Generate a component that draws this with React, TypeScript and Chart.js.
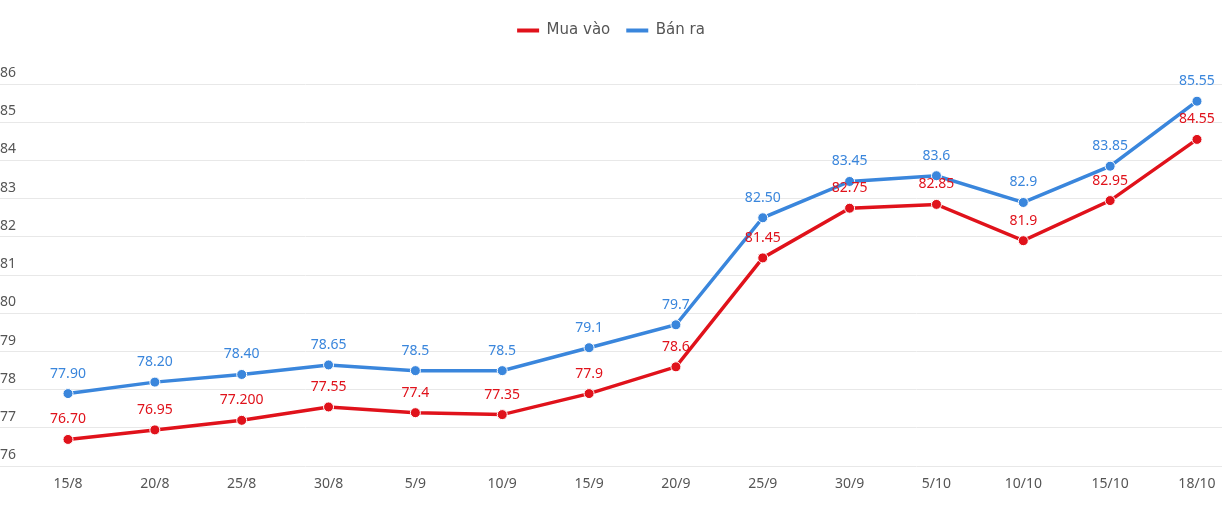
import React, { useEffect, useRef } from "react";
import { Chart, registerables } from "chart.js";

Chart.register(...registerables);

const dates = ["15/8", "20/8", "25/8", "30/8", "5/9", "10/9", "15/9", "20/9", "25/9", "30/9", "5/10", "10/10", "15/10", "18/10"];
const buyValues = [76.7, 76.95, 77.2, 77.55, 77.4, 77.35, 77.9, 78.6, 81.45, 82.75, 82.85, 81.9, 82.95, 84.55];
const buyLabels = ["76.70", "76.95", "77.200", "77.55", "77.4", "77.35", "77.9", "78.6", "81.45", "82.75", "82.85", "81.9", "82.95", "84.55"];
const sellValues = [77.9, 78.2, 78.4, 78.65, 78.5, 78.5, 79.1, 79.7, 82.5, 83.45, 83.6, 82.9, 83.85, 85.55];
const sellLabels = ["77.90", "78.20", "78.40", "78.65", "78.5", "78.5", "79.1", "79.7", "82.50", "83.45", "83.6", "82.9", "83.85", "85.55"];
const seriesNames = ["Mua vào", "Bán ra"];

const RED = "#e0121b";
const BLUE = "#3a86dc";

const labelPlugin = {
  id: "valueLabels",
  afterDatasetsDraw(chart: any) {
    const ctx = chart.ctx;
    ctx.save();
    ctx.font = "14px 'Noto Sans'";
    ctx.textAlign = "center";
    ctx.textBaseline = "middle";
    chart.data.datasets.forEach((ds: any, di: number) => {
      const meta = chart.getDatasetMeta(di);
      const texts = ds.valueLabels as string[];
      ctx.fillStyle = ds.borderColor;
      meta.data.forEach((pt: any, i: number) => {
        ctx.fillText(texts[i], pt.x, pt.y - 20);
      });
    });
    ctx.restore();
  },
};

const legendSpacer = {
  id: "legendSpacer",
  beforeInit(chart: any) {
    const fit = chart.legend.fit;
    chart.legend.fit = function () {
      fit.bind(chart.legend)();
      this.height += 36;
    };
  },
};

export default function App() {
  const ref = useRef<HTMLCanvasElement | null>(null);
  useEffect(() => {
    document.body.style.margin = "0";
    if (!ref.current) return;
    const chart = new Chart(ref.current, {
      type: "line",
      data: {
        datasets: [
          {
            label: seriesNames[0],
            data: buyValues.map((v, i) => ({ x: i, y: v })),
            valueLabels: buyLabels,
            borderColor: RED,
            backgroundColor: RED,
            borderWidth: 3.5,
            pointRadius: 5,
            pointBackgroundColor: RED,
            pointBorderColor: "#ffffff",
            pointBorderWidth: 1,
            tension: 0,
          } as any,
          {
            label: seriesNames[1],
            data: sellValues.map((v, i) => ({ x: i, y: v })),
            valueLabels: sellLabels,
            borderColor: BLUE,
            backgroundColor: BLUE,
            borderWidth: 3.5,
            pointRadius: 5,
            pointBackgroundColor: BLUE,
            pointBorderColor: "#ffffff",
            pointBorderWidth: 1,
            tension: 0,
          } as any,
        ],
      },
      options: {
        animation: false,
        responsive: true,
        maintainAspectRatio: false,
        layout: { autoPadding: false, padding: { top: 7, bottom: 29, left: 0, right: 0 } },
        plugins: {
          legend: {
            position: "top",
            labels: {
              boxWidth: 22,
              boxHeight: 4,
              padding: 16,
              color: "#555555",
              font: { size: 15, family: "'DejaVu Sans'" },
              generateLabels: (c: any) =>
                (Chart as any).defaults.plugins.legend.labels
                  .generateLabels(c)
                  .map((l: any) => ({ ...l, lineWidth: 0 })),
            },
          },
          tooltip: { enabled: false },
        },
        scales: {
          x: {
            type: "linear",
            min: -0.783,
            max: 13.288,
            afterBuildTicks(scale: any) {
              scale.ticks = dates.map((_, i) => ({ value: i }));
            },
            ticks: {
              callback: (v: any) => dates[v as number] ?? "",
              color: "#555555",
              padding: 1,
              maxRotation: 0,
              autoSkip: false,
              font: { size: 14, family: "'Noto Sans'" },
            },
            grid: { display: false },
            border: { display: false },
          },
          y: {
            min: 76,
            max: 86,
            ticks: {
              stepSize: 1,
              mirror: true,
              padding: 0,
              labelOffset: -11,
              color: "#555555",
              font: { size: 14, family: "'Noto Sans'" },
            },
            grid: { color: "#e8e8e8", drawTicks: false },
            border: { display: false },
          },
        },
      },
      plugins: [labelPlugin, legendSpacer],
    });
    return () => chart.destroy();
  }, []);
  return (
    <div style={{ width: 1222, height: 522, position: "relative" }}>
      <canvas ref={ref} />
    </div>
  );
}
